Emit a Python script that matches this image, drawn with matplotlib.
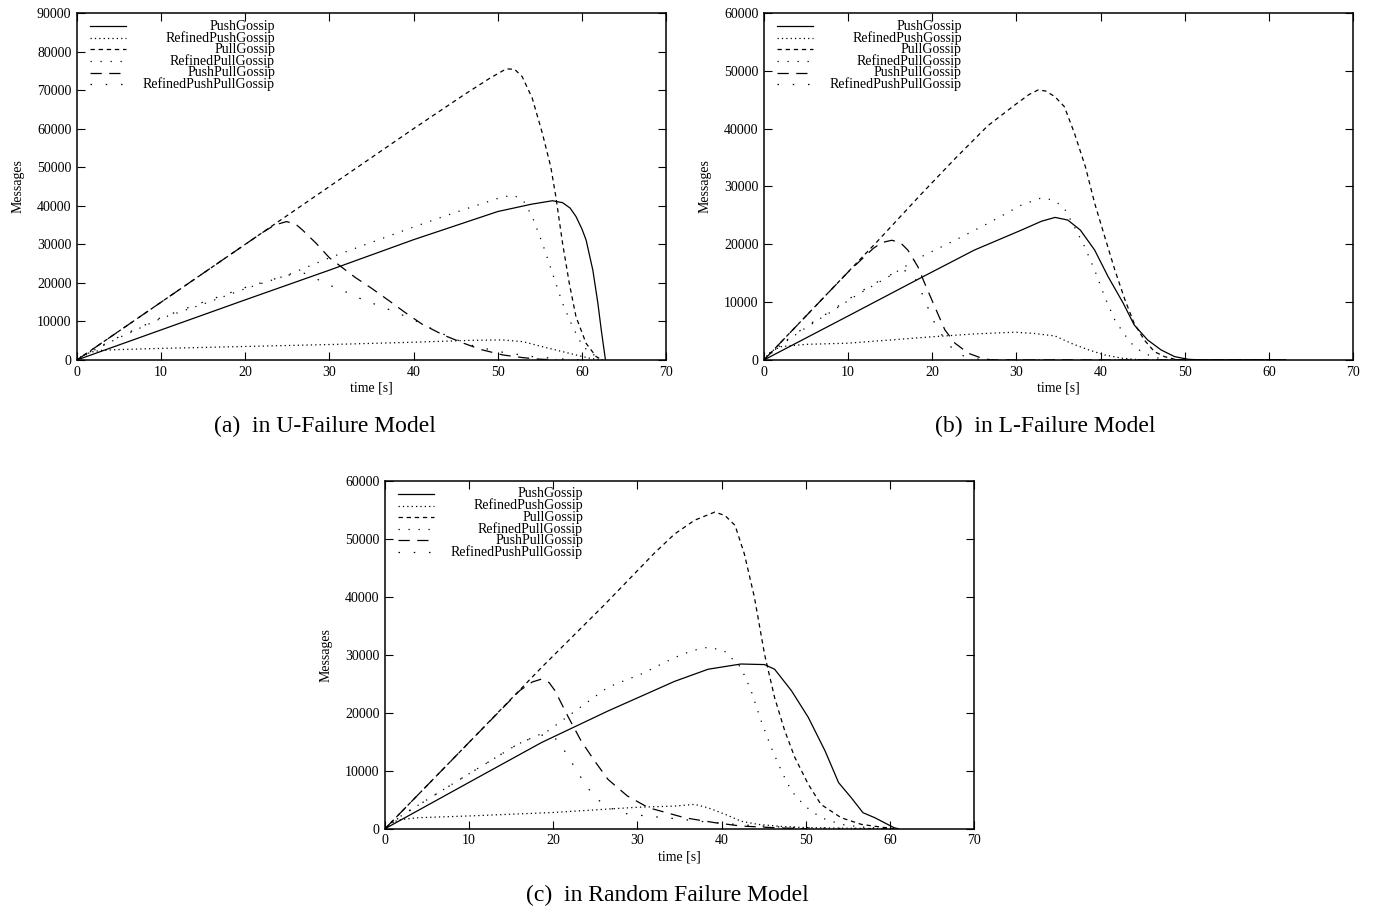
import matplotlib
matplotlib.use("Agg")
import matplotlib.pyplot as plt

plt.rcParams['font.family'] = ['Liberation Serif', 'DejaVu Serif']

labels = ['PushGossip', 'RefinedPushGossip', 'PullGossip',
          'RefinedPullGossip', 'PushPullGossip', 'RefinedPushPullGossip']

# ---- (a) U-Failure model ----
a_push_t = [0, 10, 20, 30, 40, 50, 54, 56.5, 57.7, 58.6, 59.3, 60, 60.5, 61.3, 61.9, 62.3, 62.8]
a_push_y = [0, 7800, 15600, 23300, 31200, 38500, 40400, 41300, 40800, 39400, 37200, 34000, 31100, 23300, 14700, 7800, 0]
a_rpush_t = [0, 0.5, 1, 2, 3, 5, 10, 20, 30, 40, 47, 50.5, 53, 55.3, 57.7, 59.3, 61, 62.5]
a_rpush_y = [0, 900, 1500, 2200, 2500, 2700, 3000, 3500, 4000, 4600, 5100, 5200, 4750, 3450, 2160, 1300, 400, 0]
a_pull_t = [0, 10, 20, 30, 40, 46, 49, 51, 52, 52.9, 54.1, 55.3, 56.3, 56.9, 57.7, 58.5, 59.3, 60.5, 61.7, 62.4]
a_pull_y = [0, 15000, 30000, 45000, 60000, 68800, 73000, 75500, 75400, 73500, 67900, 58800, 50100, 42400, 30300, 19900, 11200, 4300, 860, 0]
a_rpull_t = [0, 2, 5, 10, 15, 20, 25, 30, 35, 40, 45, 50, 51.8, 53, 54.1, 55.3, 56.5, 57.7, 58.9, 60.1, 61.7, 62.3]
a_rpull_y = [0, 2500, 5800, 10800, 14500, 18500, 22000, 26500, 30500, 34500, 38300, 41900, 42800, 41500, 37200, 30300, 22500, 14700, 8600, 3500, 860, 0]
a_pp_t = [0, 10, 20, 22, 23.5, 24.9, 26, 26.8, 28.4, 30, 31.5, 33, 35, 37, 39, 41, 43.5, 46, 48, 50.6, 53, 55, 57]
a_pp_y = [0, 15000, 30000, 33000, 35000, 35900, 35200, 33700, 30300, 26500, 24000, 21500, 18600, 15500, 12300, 9300, 6500, 4300, 2700, 1300, 600, 200, 0]
a_rpp_t = [0, 2, 5, 10, 15, 20, 25, 27, 28.5, 30, 32, 34, 36, 38, 40, 43, 46.5, 50, 54, 58, 60]
a_rpp_y = [0, 2700, 6000, 11000, 15000, 18800, 22000, 22500, 21000, 19400, 17600, 15600, 14000, 12300, 10400, 7200, 4000, 2200, 900, 200, 0]

# ---- (b) L-Failure model ----
b_push_t = [0, 10, 18.9, 25, 30.6, 33, 34.6, 36.1, 37.6, 39.3, 40.9, 42.7, 44, 45.6, 47.2, 48.8, 50.4, 52, 62]
b_push_y = [0, 7600, 14400, 19000, 22460, 24000, 24650, 24200, 22460, 19000, 14400, 9800, 6050, 3450, 1730, 580, 115, 0, 0]
b_rpush_t = [0, 0.5, 1, 2, 5, 10, 19.9, 25, 29.8, 32, 34.6, 36.5, 38.6, 40.5, 42.6, 45, 62]
b_rpush_y = [0, 1000, 1600, 2300, 2700, 2900, 4000, 4500, 4800, 4600, 4150, 2880, 1730, 860, 290, 0, 0]
b_pull_t = [0, 13.6, 18.7, 22.7, 26.6, 30, 31.5, 32.6, 33.5, 34.6, 35.7, 36.9, 38.2, 39.3, 40.5, 41.7, 42.9, 44, 45.2, 46.4, 47.6, 48.8, 50, 62]
b_pull_y = [0, 20700, 28700, 34800, 40500, 44300, 45900, 46700, 46500, 45500, 43800, 39200, 33400, 27100, 21300, 15550, 10400, 6300, 3450, 1440, 576, 115, 0, 0]
b_rpull_t = [0, 2, 5, 8, 11, 14.8, 18.7, 22.7, 26.6, 30.6, 33, 34.5, 35.7, 36.9, 38.1, 39.3, 40.5, 41.7, 42.9, 44, 45.2, 46.4, 48, 62]
b_rpull_y = [0, 2600, 5600, 8350, 11200, 14400, 17860, 20700, 23600, 26800, 28050, 27600, 26200, 23000, 19600, 15550, 10900, 6900, 4300, 2300, 1150, 460, 0, 0]
b_pp_t = [0, 5, 10, 13, 14, 15.2, 16.2, 17.1, 18.3, 19.1, 20.3, 21.5, 22.7, 24.3, 25.9, 27, 62]
b_pp_y = [0, 7600, 15200, 19300, 20300, 20700, 20300, 19000, 16100, 13250, 9200, 5200, 2900, 1150, 290, 0, 0]
b_rpp_t = [0, 2, 5, 8, 11, 14.8, 16.5, 17.5, 18.3, 19.2, 20.3, 21.5, 22.7, 24, 26, 62]
b_rpp_y = [0, 2700, 5800, 8500, 11400, 14600, 15500, 15200, 13250, 10000, 6340, 3500, 1440, 500, 0, 0]

# ---- (c) Random failure model ----
c_push_t = [0, 10, 18.6, 26.5, 34.4, 38.4, 42.3, 45.1, 46.3, 48.3, 50.3, 52.3, 53.9, 55.4, 56.8, 58.2, 60.5, 61]
c_push_y = [0, 8000, 14860, 20300, 25400, 27500, 28400, 28300, 27500, 23800, 19200, 13400, 7950, 5360, 2760, 1900, 170, 0]
c_rpush_t = [0, 0.5, 1, 2, 4, 10, 20, 30, 34.4, 36.8, 38.4, 40.4, 42.3, 44.3, 47, 50, 55, 60]
c_rpush_y = [0, 700, 1200, 1600, 1900, 2200, 2800, 3700, 3900, 4200, 3600, 2500, 1300, 750, 400, 200, 80, 0]
c_pull_t = [0, 10, 18.6, 26, 32, 34.4, 36.8, 39.2, 40.4, 41.6, 42.7, 43.9, 45.1, 46.3, 47.5, 48.7, 50.3, 51.8, 54.2, 56.6, 58.9, 60.5]
c_pull_y = [0, 14900, 27800, 38500, 47500, 50800, 53200, 54600, 54000, 52300, 47400, 39900, 30100, 22600, 16900, 12300, 7660, 4200, 1900, 750, 290, 0]
c_rpull_t = [0, 2, 5, 9.9, 15.8, 19.4, 22.6, 26.5, 30.5, 34.4, 36.5, 38.4, 40.3, 42.3, 43.5, 44.7, 45.9, 47.1, 48.3, 49.9, 51.8, 54.2, 56.6, 60]
c_rpull_y = [0, 2300, 5000, 9400, 14600, 16900, 20300, 24400, 26700, 29500, 30700, 31300, 30700, 27800, 23800, 18600, 14000, 9960, 6500, 3900, 1900, 750, 290, 0]
c_pp_t = [0, 10, 16, 17.5, 18.6, 19.5, 20.2, 21.8, 23.3, 24.9, 26.5, 28.8, 31.3, 33.6, 35.6, 36.8, 39.2, 42.3, 46.3, 50]
c_pp_y = [0, 14900, 23800, 25300, 25800, 25200, 23800, 19200, 15150, 11700, 8500, 5650, 3630, 2700, 1900, 1600, 1040, 460, 170, 0]
c_rpp_t = [0, 2, 5, 9.9, 15.8, 18, 19.5, 20.6, 22.2, 23.3, 24.9, 26.5, 28.1, 31, 34, 38, 42, 46, 50, 55, 60]
c_rpp_y = [0, 2300, 5000, 9400, 14600, 16000, 16300, 15150, 11400, 8800, 5400, 3800, 2700, 2200, 1800, 1200, 700, 350, 150, 50, 0]

styles = ['-', (0, (1, 2.5)), (0, (3.5, 3)), (0, (1, 7)), (0, (9, 6)), (0, (1.2, 11))]
FS = 10


def draw_panel(ax, series, ymax, yticks):
    for (t, y), ls in zip(series, styles):
        ax.plot(t, y, color='black', lw=0.9, linestyle=ls)
    ax.set_xlim(0, 70)
    ax.set_ylim(0, ymax)
    ax.set_xticks(range(0, 71, 10))
    ax.set_yticks(yticks)
    ax.tick_params(direction='in', top=True, right=True, length=6,
                   width=0.8, labelsize=FS, pad=4)
    for s in ax.spines.values():
        s.set_linewidth(1.1)
    ax.set_xlabel('time [s]', fontsize=FS, labelpad=2)
    ax.set_ylabel('Messages', fontsize=FS, labelpad=9)
    # gnuplot-style key: sample line first, label right aligned
    for i, (lab, ls) in enumerate(zip(labels, styles)):
        yk = 0.962 - i * 0.0334
        ax.plot([0.022, 0.084], [yk, yk], transform=ax.transAxes,
                color='black', lw=0.9, linestyle=ls)
        ax.text(0.336, yk, lab, transform=ax.transAxes, ha='right',
                va='center', fontsize=FS)


fig = plt.figure(figsize=(13.75, 9.15), dpi=100)

ax_a = fig.add_axes([0.056, 0.6066, 0.4284, 0.3792])
draw_panel(ax_a, [(a_push_t, a_push_y), (a_rpush_t, a_rpush_y), (a_pull_t, a_pull_y),
                  (a_rpull_t, a_rpull_y), (a_pp_t, a_pp_y), (a_rpp_t, a_rpp_y)],
           90000, range(0, 90001, 10000))

ax_b = fig.add_axes([0.5556, 0.6066, 0.4284, 0.3792])
draw_panel(ax_b, [(b_push_t, b_push_y), (b_rpush_t, b_rpush_y), (b_pull_t, b_pull_y),
                  (b_rpull_t, b_rpull_y), (b_pp_t, b_pp_y), (b_rpp_t, b_rpp_y)],
           60000, range(0, 60001, 10000))

ax_c = fig.add_axes([0.28, 0.0943, 0.4284, 0.3803])
draw_panel(ax_c, [(c_push_t, c_push_y), (c_rpush_t, c_rpush_y), (c_pull_t, c_pull_y),
                  (c_rpull_t, c_rpull_y), (c_pp_t, c_pp_y), (c_rpp_t, c_rpp_y)],
           60000, range(0, 60001, 10000))

CAP = 17
fig.text(325 / 1375, 1 - 426 / 915, '(a)  in U-Failure Model', ha='center', va='center', fontsize=CAP)
fig.text(1045 / 1375, 1 - 426 / 915, '(b)  in L-Failure Model', ha='center', va='center', fontsize=CAP)
fig.text(667 / 1375, 1 - 895 / 915, '(c)  in Random Failure Model', ha='center', va='center', fontsize=CAP)

fig.savefig('out.png', dpi=100)
